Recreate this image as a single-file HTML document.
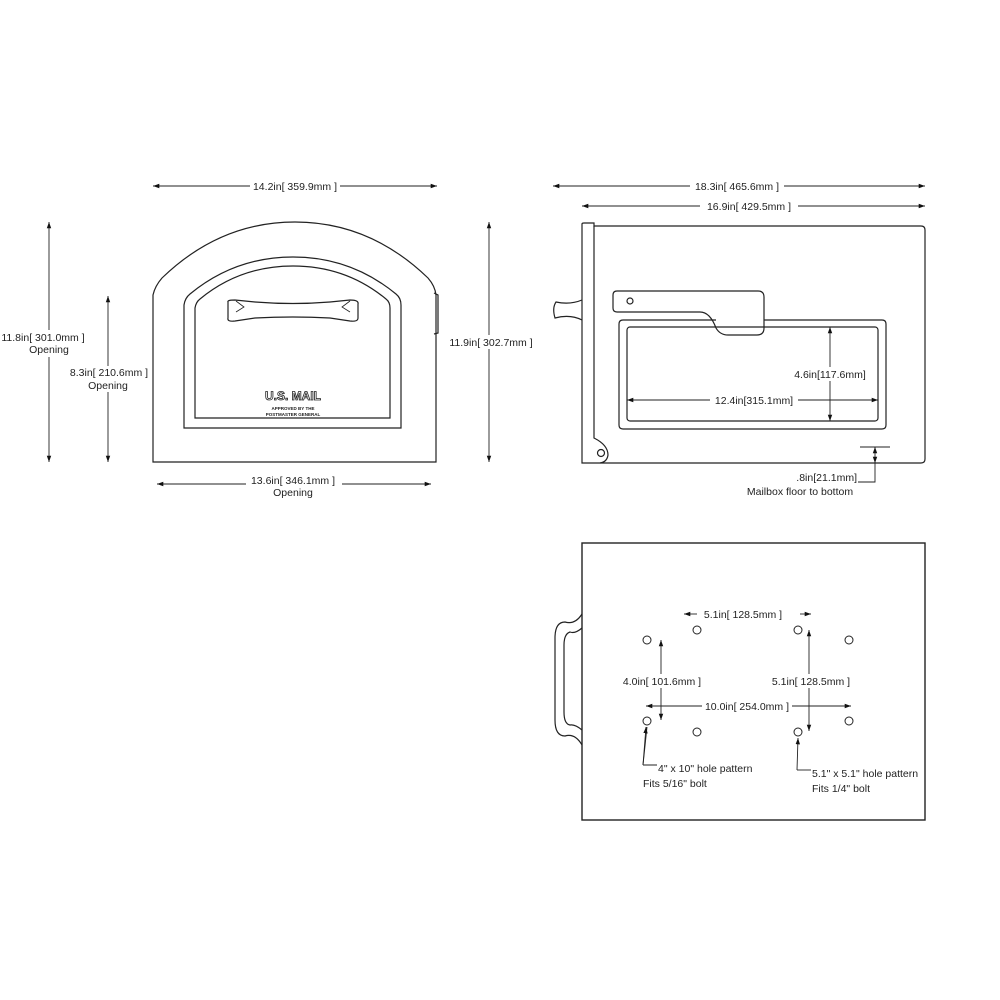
<!DOCTYPE html>
<html><head><style>
html,body{margin:0;padding:0;background:#fff;}
svg{display:block;}
text{font-family:"Liberation Sans",sans-serif;font-size:10.5px;fill:#222;}
</style></head><body>
<svg width="1000" height="1000" viewBox="0 0 1000 1000" xmlns="http://www.w3.org/2000/svg">
<defs>
<marker id="a" viewBox="0 0 10 10" refX="10" refY="5" markerWidth="7" markerHeight="7" orient="auto-start-reverse"><path d="M0,1.5 L10,5 L0,8.5z" fill="#111"/></marker>
</defs>
<g fill="none" stroke="#222" stroke-width="1.2">
<!-- FRONT VIEW -->
<path d="M153,462 L153,295 Q155,286 162,278 Q220,222 295,222 Q370,222 428,278 Q435,286 436,295 L436,462 Z"/>
<path d="M184,428 L184,305 Q185,298 190,294 Q235,257 293,257 Q351,257 396,294 Q401,298 401,305 L401,428 Z" />
<path d="M195,418 L195,308 Q196,302 200,299 Q240,266 293,266 Q346,266 386,299 Q390,302 390,308 L390,418 Z" />
<path d="M228,302 Q227,300 235,300 L255,302 Q293,305 330,302 L350,300 Q359,300 358,304 L358,318 Q358,322 350,321 L330,318 Q293,316 255,318 L235,321 Q227,322 228,318 Z"/>
<path d="M236,301 L244,307 L236,312 M350,301 L342,307 L350,312" stroke-width="0.8"/>
<path d="M434,293 L438,295 L438,333 L434,334"/>
<!-- dims front -->
<line x1="153" y1="186" x2="437" y2="186" marker-start="url(#a)" marker-end="url(#a)" stroke-width="0.9"/>
<line x1="49" y1="222" x2="49" y2="462" marker-start="url(#a)" marker-end="url(#a)" stroke-width="0.9"/>
<line x1="108" y1="296" x2="108" y2="462" marker-start="url(#a)" marker-end="url(#a)" stroke-width="0.9"/>
<line x1="489" y1="222" x2="489" y2="462" marker-start="url(#a)" marker-end="url(#a)" stroke-width="0.9"/>
<line x1="157" y1="484" x2="431" y2="484" marker-start="url(#a)" marker-end="url(#a)" stroke-width="0.9"/>

<!-- SIDE VIEW -->
<path d="M582,463 L582,224 Q582,223 584,223 L594,223 L594,226 L921,226 Q925,226 925,230 L925,459 Q925,463 921,463 Z"/>
<path d="M594,226 L594,438 Q608,445 608,455 Q607,462 600,463"/>
<circle cx="601" cy="453" r="3.5"/>
<path d="M582,300 Q570,305 556,302 Q552,308 555,318 Q570,314 582,320"/>
<path d="M617,291 L758,291 Q764,291 764,297 L764,328 Q764,335 757,335 L728,335 Q720,335 716,328 Q710,312 700,312 L617,312 Q613,312 613,308 L613,295 Q613,291 617,291 Z"/>
<circle cx="630" cy="301" r="3"/>
<path d="M716,320 L623,320 Q619,320 619,324 L619,425 Q619,429 623,429 L882,429 Q886,429 886,425 L886,324 Q886,320 882,320 L764,320"/>
<rect x="627" y="327" width="251" height="94" rx="3"/>
<line x1="830" y1="327" x2="830" y2="421" marker-start="url(#a)" marker-end="url(#a)" stroke-width="0.9"/>
<line x1="627" y1="400" x2="878" y2="400" marker-start="url(#a)" marker-end="url(#a)" stroke-width="0.9"/>
<line x1="860" y1="447" x2="890" y2="447" stroke-width="0.9"/>
<line x1="875" y1="447" x2="875" y2="463" marker-start="url(#a)" marker-end="url(#a)" stroke-width="0.9"/>
<path d="M875,463 L875,482 L858,482" stroke-width="0.9"/>
<line x1="553" y1="186" x2="925" y2="186" marker-start="url(#a)" marker-end="url(#a)" stroke-width="0.9"/>
<line x1="582" y1="206" x2="925" y2="206" marker-start="url(#a)" marker-end="url(#a)" stroke-width="0.9"/>

<!-- BOTTOM VIEW -->
<rect x="582" y="543" width="343" height="277" stroke-width="1.4"/>
<path d="M582,614 Q575,625 565,622 Q555,622 555,638 L555,720 Q555,736 565,736 Q575,733 582,745"/>
<path d="M582,628 Q575,634 570,632 Q564,634 564,645 L564,712 Q564,724 570,725 Q575,724 582,730"/>
<g stroke-width="1">
<circle cx="647" cy="640" r="4"/><circle cx="697" cy="630" r="4"/><circle cx="798" cy="630" r="4"/><circle cx="849" cy="640" r="4"/>
<circle cx="647" cy="721" r="4"/><circle cx="697" cy="732" r="4"/><circle cx="798" cy="732" r="4"/><circle cx="849" cy="721" r="4"/>
</g>
<line x1="684" y1="614" x2="697" y2="614" marker-start="url(#a)" stroke-width="0.9"/>
<line x1="800" y1="614" x2="811" y2="614" marker-end="url(#a)" stroke-width="0.9"/>
<line x1="661" y1="640" x2="661" y2="720" marker-start="url(#a)" marker-end="url(#a)" stroke-width="0.9"/>
<line x1="809" y1="630" x2="809" y2="731" marker-start="url(#a)" marker-end="url(#a)" stroke-width="0.9"/>
<line x1="646" y1="706" x2="851" y2="706" marker-start="url(#a)" marker-end="url(#a)" stroke-width="0.9"/>
<path d="M643,765 L647,727 M643,765 L657,765" stroke-width="0.9" marker-end="none"/>
<line x1="643" y1="765" x2="646" y2="727" marker-end="url(#a)" stroke-width="0.9"/>
<path d="M797,770 L811,770" stroke-width="0.9"/>
<line x1="797" y1="770" x2="798" y2="738" marker-end="url(#a)" stroke-width="0.9"/>
</g>

<!-- labels with white bg -->
<g fill="#fff">
<rect x="250" y="178" width="90" height="14"/>
<rect x="4" y="330" width="78" height="27"/>
<rect x="66" y="366" width="86" height="26"/>
<rect x="448" y="335" width="86" height="14"/>
<rect x="246" y="476" width="96" height="22"/>
<rect x="690" y="178" width="94" height="14"/>
<rect x="700" y="198" width="98" height="14"/>
<rect x="790" y="367" width="80" height="14"/>
<rect x="710" y="393" width="88" height="14"/>
<rect x="620" y="674" width="84" height="14"/>
<rect x="772" y="674" width="78" height="14"/>
<rect x="702" y="699" width="90" height="14"/>
</g>
<text x="295" y="190" text-anchor="middle">14.2in[ 359.9mm ]</text>
<text x="43" y="341" text-anchor="middle">11.8in[ 301.0mm ]</text>
<text x="49" y="353" text-anchor="middle">Opening</text>
<text x="109" y="376" text-anchor="middle">8.3in[ 210.6mm ]</text>
<text x="108" y="389" text-anchor="middle">Opening</text>
<text x="491" y="346" text-anchor="middle">11.9in[ 302.7mm ]</text>
<text x="293" y="484" text-anchor="middle">13.6in[ 346.1mm ]</text>
<text x="293" y="496" text-anchor="middle">Opening</text>
<text x="293" y="400" text-anchor="middle" style="font-size:12px;font-weight:bold;fill:#fff;stroke:#222;stroke-width:0.8">U.S. MAIL</text>
<text x="293" y="410" text-anchor="middle" style="font-size:4.5px;font-weight:bold">APPROVED BY THE</text>
<text x="293" y="416" text-anchor="middle" style="font-size:4.5px;font-weight:bold">POSTMASTER GENERAL</text>

<text x="737" y="190" text-anchor="middle">18.3in[ 465.6mm ]</text>
<text x="749" y="210" text-anchor="middle">16.9in[ 429.5mm ]</text>
<text x="830" y="378" text-anchor="middle">4.6in[117.6mm]</text>
<text x="754" y="404" text-anchor="middle">12.4in[315.1mm]</text>
<text x="857" y="481" text-anchor="end">.8in[21.1mm]</text>
<text x="800" y="495" text-anchor="middle">Mailbox floor to bottom</text>

<text x="743" y="618" text-anchor="middle">5.1in[ 128.5mm ]</text>
<text x="662" y="685" text-anchor="middle">4.0in[ 101.6mm ]</text>
<text x="811" y="685" text-anchor="middle">5.1in[ 128.5mm ]</text>
<text x="747" y="710" text-anchor="middle">10.0in[ 254.0mm ]</text>
<text x="658" y="772">4" x 10" hole pattern</text>
<text x="643" y="787">Fits 5/16" bolt</text>
<text x="812" y="777">5.1" x 5.1" hole pattern</text>
<text x="812" y="792">Fits 1/4" bolt</text>
</svg>
</body></html>
